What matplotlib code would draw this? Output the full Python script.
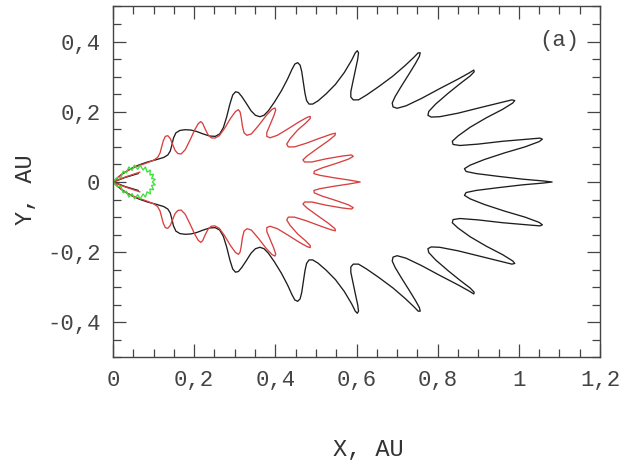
import matplotlib
matplotlib.use('Agg')
import matplotlib.pyplot as plt
import numpy as np
from matplotlib.ticker import MultipleLocator, FuncFormatter

# ---- data (upper half of each symmetric curve, in AU) ----
black_x = [0.062, 0.030, 0.010, 0.000, 0.003, 0.012, 0.022, 0.034, 0.049, 0.065, 0.085, 0.108, 0.125,
           0.135, 0.141, 0.145, 0.149, 0.155, 0.165, 0.178, 0.192, 0.206, 0.222, 0.238, 0.252, 0.263,
           0.272, 0.280, 0.288, 0.295, 0.302, 0.309, 0.317, 0.328, 0.340, 0.351, 0.362, 0.372, 0.383,
           0.398, 0.415, 0.430, 0.441, 0.448, 0.455, 0.461, 0.465, 0.469, 0.473, 0.477, 0.483, 0.492,
           0.505, 0.525, 0.548, 0.570, 0.588, 0.597, 0.602, 0.605, 0.603, 0.597, 0.591, 0.586, 0.586,
           0.592, 0.605, 0.625, 0.655, 0.690, 0.720, 0.742, 0.752, 0.757, 0.755, 0.745, 0.728, 0.710,
           0.695, 0.688, 0.690, 0.700, 0.722, 0.760, 0.805, 0.850, 0.878, 0.889, 0.890, 0.880, 0.855,
           0.825, 0.795, 0.778, 0.776, 0.784, 0.805, 0.850, 0.905, 0.955, 0.983, 0.990, 0.985, 0.960,
           0.920, 0.880, 0.850, 0.836, 0.838, 0.855, 0.900, 0.960, 1.020, 1.052, 1.058, 1.050, 1.015,
           0.965, 0.915, 0.880, 0.866, 0.870, 0.895, 0.950, 1.010, 1.060, 1.082]
black_y = [0.024, 0.013, 0.004, 0.000, 0.003, 0.013, 0.022, 0.031, 0.041, 0.049, 0.057, 0.064, 0.070,
           0.077, 0.088, 0.105, 0.125, 0.140, 0.147, 0.149, 0.148, 0.144, 0.137, 0.131, 0.130, 0.137,
           0.155, 0.185, 0.222, 0.248, 0.257, 0.255, 0.244, 0.225, 0.203, 0.190, 0.186, 0.190, 0.203,
           0.228, 0.260, 0.293, 0.321, 0.336, 0.340, 0.333, 0.315, 0.285, 0.253, 0.232, 0.222, 0.222,
           0.231, 0.251, 0.278, 0.312, 0.347, 0.368, 0.374, 0.368, 0.350, 0.318, 0.285, 0.257, 0.242,
           0.234, 0.234, 0.248, 0.272, 0.302, 0.332, 0.356, 0.368, 0.368, 0.358, 0.337, 0.305, 0.272,
           0.243, 0.225, 0.214, 0.210, 0.217, 0.238, 0.266, 0.293, 0.311, 0.319, 0.314, 0.302, 0.280,
           0.252, 0.222, 0.201, 0.190, 0.185, 0.186, 0.196, 0.212, 0.226, 0.234, 0.232, 0.225, 0.207,
           0.183, 0.156, 0.131, 0.116, 0.107, 0.104, 0.108, 0.116, 0.122, 0.125, 0.122, 0.115, 0.100,
           0.083, 0.064, 0.048, 0.038, 0.030, 0.024, 0.016, 0.008, 0.003, 0.000]

red_x = [0.066, 0.032, 0.010, 0.000, 0.004, 0.013, 0.024, 0.037, 0.052, 0.068, 0.085, 0.100, 0.110,
         0.116, 0.120, 0.124, 0.129, 0.135, 0.141, 0.147, 0.153, 0.160, 0.168, 0.178, 0.190, 0.202,
         0.210, 0.216, 0.221, 0.227, 0.234, 0.242, 0.251, 0.262, 0.275, 0.290, 0.302, 0.309, 0.313,
         0.316, 0.319, 0.323, 0.330, 0.341, 0.358, 0.378, 0.392, 0.399, 0.401, 0.396, 0.387, 0.379,
         0.379, 0.387, 0.405, 0.432, 0.458, 0.478, 0.486, 0.486, 0.475, 0.455, 0.436, 0.428, 0.432,
         0.447, 0.475, 0.510, 0.537, 0.548, 0.547, 0.530, 0.503, 0.478, 0.468, 0.472, 0.490, 0.525,
         0.565, 0.588, 0.592, 0.580, 0.550, 0.515, 0.496, 0.495, 0.510, 0.545, 0.585, 0.609]
red_y = [0.028, 0.015, 0.005, 0.000, 0.004, 0.014, 0.024, 0.033, 0.041, 0.048, 0.055, 0.062, 0.070,
         0.083, 0.100, 0.118, 0.130, 0.132, 0.124, 0.107, 0.090, 0.081, 0.080, 0.092, 0.120, 0.150,
         0.166, 0.172, 0.167, 0.151, 0.135, 0.126, 0.125, 0.132, 0.153, 0.182, 0.201, 0.206, 0.200,
         0.183, 0.158, 0.140, 0.133, 0.137, 0.160, 0.190, 0.207, 0.211, 0.205, 0.188, 0.163, 0.141,
         0.130, 0.126, 0.133, 0.152, 0.171, 0.184, 0.187, 0.181, 0.168, 0.148, 0.123, 0.108, 0.100,
         0.100, 0.110, 0.125, 0.136, 0.139, 0.133, 0.117, 0.095, 0.074, 0.063, 0.057, 0.057, 0.066,
         0.074, 0.077, 0.073, 0.065, 0.053, 0.040, 0.031, 0.024, 0.019, 0.012, 0.005, 0.000]

green_x = [0.000, 0.010, 0.020, 0.025, 0.033, 0.039, 0.047, 0.053, 0.061, 0.067, 0.074, 0.080, 0.084,
           0.092, 0.091, 0.100, 0.095, 0.104, 0.097]
green_y = [0.000, 0.012, 0.013, 0.031, 0.026, 0.043, 0.033, 0.048, 0.036, 0.048, 0.034, 0.043, 0.028,
           0.034, 0.020, 0.022, 0.010, 0.008, 0.000]

x_ticks = [0, 0.2, 0.4, 0.6, 0.8, 1.0, 1.2]
y_ticks = [-0.4, -0.2, 0, 0.2, 0.4]


def full_curve(xu, yu):
    xu = np.asarray(xu); yu = np.asarray(yu)
    x = np.concatenate([xu, xu[-2::-1]])
    y = np.concatenate([yu, -yu[-2::-1]])
    return x, y


plt.rcParams['font.family'] = ['Liberation Mono', 'DejaVu Sans Mono']

fig = plt.figure(figsize=(6.3, 4.69), dpi=100)
ax = fig.add_axes([113 / 630, 1 - 357.5 / 469, 487 / 630, 351 / 469])

for xs, ys, col in [(black_x, black_y, '#1e1e1e'), (red_x, red_y, '#d8403f'), (green_x, green_y, '#3de03d')]:
    cx, cy = full_curve(xs, ys)
    ax.plot(cx, cy, color=col, lw=0.95, solid_joinstyle='round', antialiased=True)

ax.set_xlim(0, 1.2)
ax.set_ylim(-0.5, 0.5)
ax.set_xticks(x_ticks)
ax.set_yticks(y_ticks)
ax.xaxis.set_minor_locator(MultipleLocator(0.05))
ax.yaxis.set_minor_locator(MultipleLocator(0.05))


def fmt(v, p):
    v = round(v, 2)
    if abs(v) < 1e-9:
        return '0'
    return ('%g' % v).replace('.', ',')


ax.xaxis.set_major_formatter(FuncFormatter(fmt))
ax.yaxis.set_major_formatter(FuncFormatter(fmt))
ax.tick_params(which='both', direction='in', top=True, right=True, color='#444444', width=0.9)
ax.tick_params(which='major', length=9.5, labelsize=16, labelcolor='#444444', pad=9)
ax.tick_params(which='minor', length=5.8)
for s in ax.spines.values():
    s.set_color('#444444')
    s.set_linewidth(1.0)

ax.text(1.10, 0.403, '(a)', ha='center', va='center', fontsize=16, color='#444444')
fig.text(368 / 630, 1 - 449 / 469, 'X, AU', ha='center', va='center', fontsize=17, color='#333333')
fig.text(26 / 630, 1 - 190 / 469, 'Y, AU', ha='center', va='center', rotation=90, fontsize=17,
         color='#333333')

fig.savefig('out.png', dpi=100)
